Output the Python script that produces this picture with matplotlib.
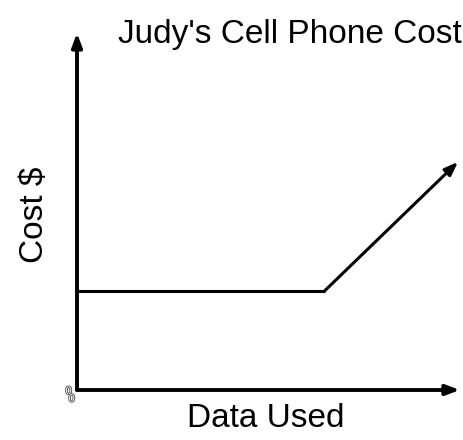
import matplotlib.pyplot as plt
import matplotlib.patheffects as pe

plt.rcParams['font.family'] = ['Liberation Sans', 'DejaVu Sans']

# data (arbitrary units)
data_used = [0, 6.5, 10]
cost = [10, 10, 23]

fig = plt.figure(figsize=(4.63, 4.4), dpi=100)
ax = fig.add_axes([77 / 463, 50 / 440, 381 / 463, 357 / 440])
ax.set_xlim(0, 10)
ax.set_ylim(0, 36)
ax.axis('off')

arrow = dict(arrowstyle='-|>,head_length=0.8,head_width=0.3',
             lw=2.8, color='black', shrinkA=0, shrinkB=0)

# axis arrows
ax.annotate('', xy=(10.05, 0), xytext=(0, 0), arrowprops=arrow,
            annotation_clip=False)
ax.annotate('', xy=(0, 36), xytext=(0, 0), arrowprops=arrow,
            annotation_clip=False)

# cost line
ax.plot(data_used[:2], cost[:2], color='black', lw=2.2, solid_capstyle='butt')
ax.annotate('', xy=(data_used[2], cost[2]), xytext=(data_used[1], cost[1]),
            arrowprops=dict(arrow, lw=2.2), annotation_clip=False)

# stray origin mark
ax.text(-0.3, -0.5, '0\n 0', fontsize=8, color='white', ha='left', va='center',
        linespacing=0.7,
        path_effects=[pe.withStroke(linewidth=1.2, foreground='#444444')])

fig.text(290 / 463, 1 - 34 / 440, "Judy's Cell Phone Cost", fontsize=24,
         ha='center', va='center')
fig.text(35 / 463, 1 - 215 / 440, 'Cost $', fontsize=24, rotation=90,
         ha='center', va='center')
fig.text(266 / 463, 1 - 418 / 440, 'Data Used', fontsize=24,
         ha='center', va='center')

fig.savefig('out.png', dpi=100)
